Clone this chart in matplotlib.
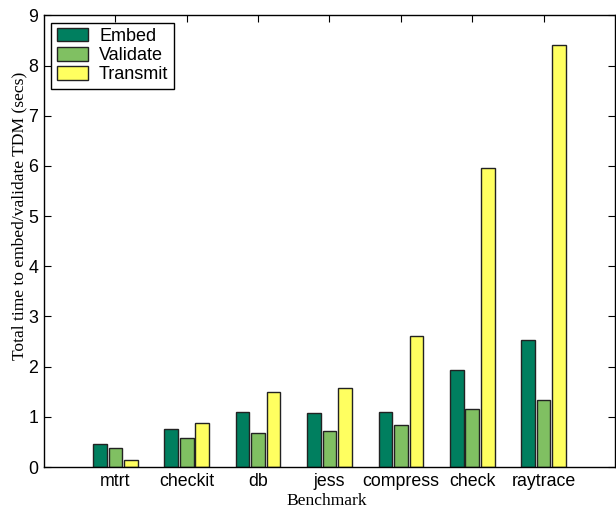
import matplotlib
matplotlib.use("Agg")
import matplotlib.pyplot as plt
import numpy as np

benchmarks = ["mtrt", "checkit", "db", "jess", "compress", "check", "raytrace"]
embed = [0.45, 0.75, 1.10, 1.08, 1.10, 1.93, 2.54]
validate = [0.38, 0.58, 0.67, 0.72, 0.84, 1.16, 1.33]
transmit = [0.13, 0.87, 1.50, 1.57, 2.62, 5.95, 8.40]
yticks = list(range(0, 10))

fig = plt.figure(figsize=(6.16, 5.08), dpi=100)
ax = fig.add_axes([0.0714, 0.0807, 0.927, 0.889])
ax.set_axisbelow(True)

x = np.arange(1, len(benchmarks) + 1)
w = 0.19
off = 0.217
series = [(embed, "Embed", "#007f5f"), (validate, "Validate", "#80c062"), (transmit, "Transmit", "#ffff60")]
for i, (vals, lab, col) in enumerate(series):
    ax.bar(x + (i - 1) * off, vals, width=w, color=col, edgecolor="#222222", linewidth=1.0, label=lab)

ax.set_xlim(0, 8)
ax.set_ylim(0, 9)
ax.set_yticks(yticks)
ax.set_xticks(x)
tf = dict(family=["Liberation Sans", "DejaVu Sans"], size=12.8)
ax.set_xticklabels(benchmarks, fontdict=tf)
ax.set_yticklabels([str(t) for t in yticks], fontdict=tf)
ax.tick_params(direction="in", top=True, right=True, length=5, width=0.8, pad=4)
for s in ax.spines.values():
    s.set_linewidth(1.0)

ax.set_xlabel("Benchmark", family="Liberation Serif", size=12.6)
ax.xaxis.set_label_coords(0.495, -0.057, transform=ax.transAxes)
ax.xaxis.label.set_va("top")
ax.set_ylabel("Total time to embed/validate TDM (secs)", family="Liberation Serif", size=12.6)
ax.yaxis.set_label_coords(-0.029, 0.555)

leg = ax.legend(loc="upper left", prop={"family": "Liberation Sans", "size": 13}, fancybox=False,
                edgecolor="black", framealpha=1, borderaxespad=0.4, handlelength=1.75, handleheight=0.75,
                labelspacing=0.12, handletextpad=0.6, borderpad=0.3)
leg.get_frame().set_linewidth(1.0)

fig.savefig("out.png", dpi=100)
